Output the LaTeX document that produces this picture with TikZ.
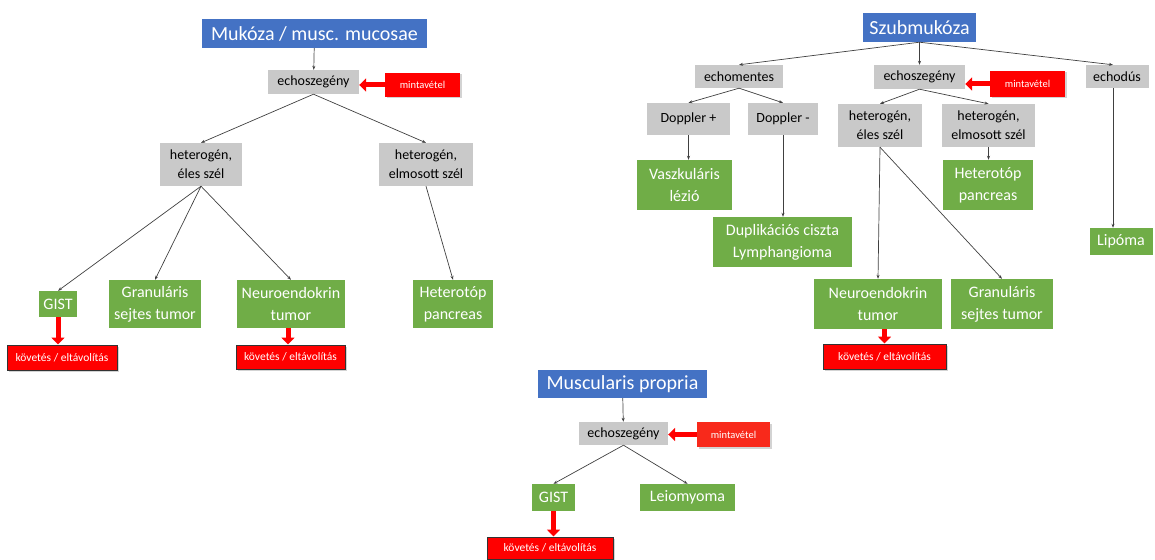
\documentclass[tikz,border=0pt]{standalone}
\usepackage{fontspec}
\setmainfont{Carlito}
\usetikzlibrary{arrows.meta,shadows}

\definecolor{layerblue}{HTML}{4472C4}
\definecolor{findgreen}{HTML}{70AD47}
\definecolor{echogray}{HTML}{C9C9C9}
\definecolor{alertred}{HTML}{FF0000}
\definecolor{biopsyred}{HTML}{F8291B}

\tikzset{
  layer/.style={fill=layerblue, text=white, inner sep=0pt,
    font=\fontsize{20}{22}\selectfont},
  echo/.style={fill=echogray, text=black, inner sep=0pt, align=center,
    font=\fontsize{14}{19}\selectfont},
  finding/.style={fill=findgreen, text=white, inner sep=0pt, align=center,
    font=\fontsize{16}{22}\selectfont},
  biopsy/.style={fill=alertred, text=white, inner sep=0pt,
    font=\fontsize{10.5}{12}\selectfont,
    drop shadow={opacity=0.35, shadow xshift=1.5pt, shadow yshift=-1.5pt}},
  action/.style={fill=alertred, draw=black!80, line width=1pt, text=white,
    inner sep=0pt, font=\fontsize{11.5}{13}\selectfont,
    drop shadow={opacity=0.35, shadow xshift=1.5pt, shadow yshift=-1.5pt}},
  conn/.style={draw=black!75, line width=0.7pt,
    -{Stealth[length=4pt,width=3pt]}},
  redarrow/.style={draw=alertred, line width=5pt,
    -{Triangle[width=13pt,length=7pt]}},
}

\begin{document}
\begin{tikzpicture}[x=1pt, y=-1pt]
  \useasboundingbox (0,0) rectangle (1155,559);

  % Mukoza / musc. mucosae
  \node[layer, minimum width=225, minimum height=29] (mucL) at (314.5,33.5) {Mukóza / musc. mucosae};
  \node[echo, minimum width=91, minimum height=24] (echoL) at (313.5,82) {echoszegény};
  \node[biopsy, minimum width=75, minimum height=24] (mintaL) at (422.5,85) {mintavétel};
  \node[echo, minimum width=82, minimum height=43] (hetL1) at (201,164.5) {heterogén,\\éles szél};
  \node[echo, minimum width=94, minimum height=43] (hetL2) at (426,164.5) {heterogén,\\elmosott szél};
  \node[finding, minimum width=38, minimum height=26] (gistL) at (58,304) {GIST};
  \node[finding, minimum width=92, minimum height=48] (granL) at (155,304) {Granuláris\\sejtes tumor};
  \node[finding, minimum width=108, minimum height=48] (neuL) at (291,304) {Neuroendokrin\\tumor};
  \node[finding, minimum width=80, minimum height=48] (hetpL) at (453,304) {Heterotóp\\pancreas};
  \node[action, minimum width=110, minimum height=25] (kovL1) at (62,357.5) {követés / eltávolítás};
  \node[action, minimum width=109, minimum height=24] (kovL2) at (290.5,357) {követés / eltávolítás};

  \draw[conn] (mucL) -- (echoL);
  \draw[conn] (echoL.south) -- (hetL1.north);
  \draw[conn] (echoL.south) -- (hetL2.north);
  \draw[conn] (hetL1.south) -- (gistL.north);
  \draw[conn] (hetL1.south) -- (granL.north);
  \draw[conn] (hetL1.south) -- (neuL.north);
  \draw[conn] (hetL2.south) -- (hetpL.north);
  \draw[redarrow] (mintaL.west) -- (mintaL.west -| echoL.east);
  \draw[redarrow] (gistL.south) -- (gistL.south |- kovL1.north);
  \draw[redarrow] ([xshift=-3pt]neuL.south) -- ([xshift=-3pt]neuL.south |- kovL2.north);

  % Szubmukoza
  \node[layer, minimum width=113, minimum height=29] (subR) at (919.5,27.5) {Szubmukóza};
  \node[echo, minimum width=88, minimum height=23] (emR) at (739,76.5) {echomentes};
  \node[echo, minimum width=91, minimum height=24] (echoR) at (919.5,77) {echoszegény};
  \node[biopsy, minimum width=75, minimum height=26] (mintaR) at (1027.5,84) {mintavétel};
  \node[echo, minimum width=63, minimum height=23] (edR) at (1117,76.5) {echodús};
  \node[echo, minimum width=83, minimum height=32] (dpR) at (688.5,119) {Doppler +};
  \node[echo, minimum width=70, minimum height=32] (dmR) at (783,119) {Doppler -};
  \node[echo, minimum width=84, minimum height=43] (hetR1) at (880,125.5) {heterogén,\\éles szél};
  \node[echo, minimum width=93, minimum height=43] (hetR2) at (988.5,125.5) {heterogén,\\elmosott szél};
  \node[finding, minimum width=95, minimum height=50] (vaszR) at (684.5,185) {Vaszkuláris\\lézió};
  \node[finding, minimum width=90, minimum height=50] (hetpR) at (988,185) {Heterotóp\\pancreas};
  \node[finding, minimum width=139, minimum height=50] (duplR) at (782.5,242) {Duplikációs ciszta\\Lymphangioma};
  \node[finding, minimum width=63, minimum height=27] (lipR) at (1121,241.5) {Lipóma};
  \node[finding, minimum width=128, minimum height=50] (neuR) at (878,304) {Neuroendokrin\\tumor};
  \node[finding, minimum width=102, minimum height=50] (granR) at (1002,304) {Granuláris\\sejtes tumor};
  \node[action, minimum width=123, minimum height=25] (kovR) at (884.5,356.5) {követés / eltávolítás};

  \draw[conn] (subR.south) -- (emR.north);
  \draw[conn] (subR.south) -- (echoR.north);
  \draw[conn] (subR.south) -- ([xshift=-4pt]edR.north);
  \draw[conn] (emR.south) -- (dpR.north);
  \draw[conn] (emR.south) -- (dmR.north);
  \draw[conn] (dpR.south) -- (dpR.south |- vaszR.north);
  \draw[conn] (dmR.south) -- (dmR.south |- duplR.north);
  \draw[conn] (echoR.south) -- (hetR1.north);
  \draw[conn] (echoR.south) -- (hetR2.north);
  \draw[conn] (hetR2.south) -- (hetR2.south |- hetpR.north);
  \draw[conn] (hetR1.south) -- (neuR.north);
  \draw[conn] (hetR1.south) -- (granR.north);
  \draw[conn] ([xshift=-4pt]edR.south) -- ([xshift=-4pt]edR.south |- lipR.north);
  \draw[redarrow] (mintaR.west) -- (mintaR.west -| echoR.east);
  \draw[redarrow] (kovR.north |- neuR.south) -- (kovR.north);

  % Muscularis propria
  \node[layer, minimum width=169, minimum height=28] (musB) at (622.5,384) {Muscularis propria};
  \node[echo, minimum width=89, minimum height=23] (echoB) at (623.5,433.5) {echoszegény};
  \node[biopsy, fill=biopsyred, minimum width=73, minimum height=25] (mintaB) at (733.5,434.5) {mintavétel};
  \node[finding, minimum width=43, minimum height=27] (gistB) at (553.5,497.5) {GIST};
  \node[finding, minimum width=95, minimum height=27] (leioB) at (687.5,497.5) {Leiomyoma};
  \node[action, minimum width=126, minimum height=22] (kovB) at (550,548) {követés / eltávolítás};

  \draw[conn] (musB) -- (echoB);
  \draw[conn] (echoB.south) -- (gistB.north);
  \draw[conn] (echoB.south) -- (leioB.north);
  \draw[redarrow] (mintaB.west) -- (mintaB.west -| echoB.east);
  \draw[redarrow] (gistB.south) -- (gistB.south |- kovB.north);
\end{tikzpicture}
\end{document}
